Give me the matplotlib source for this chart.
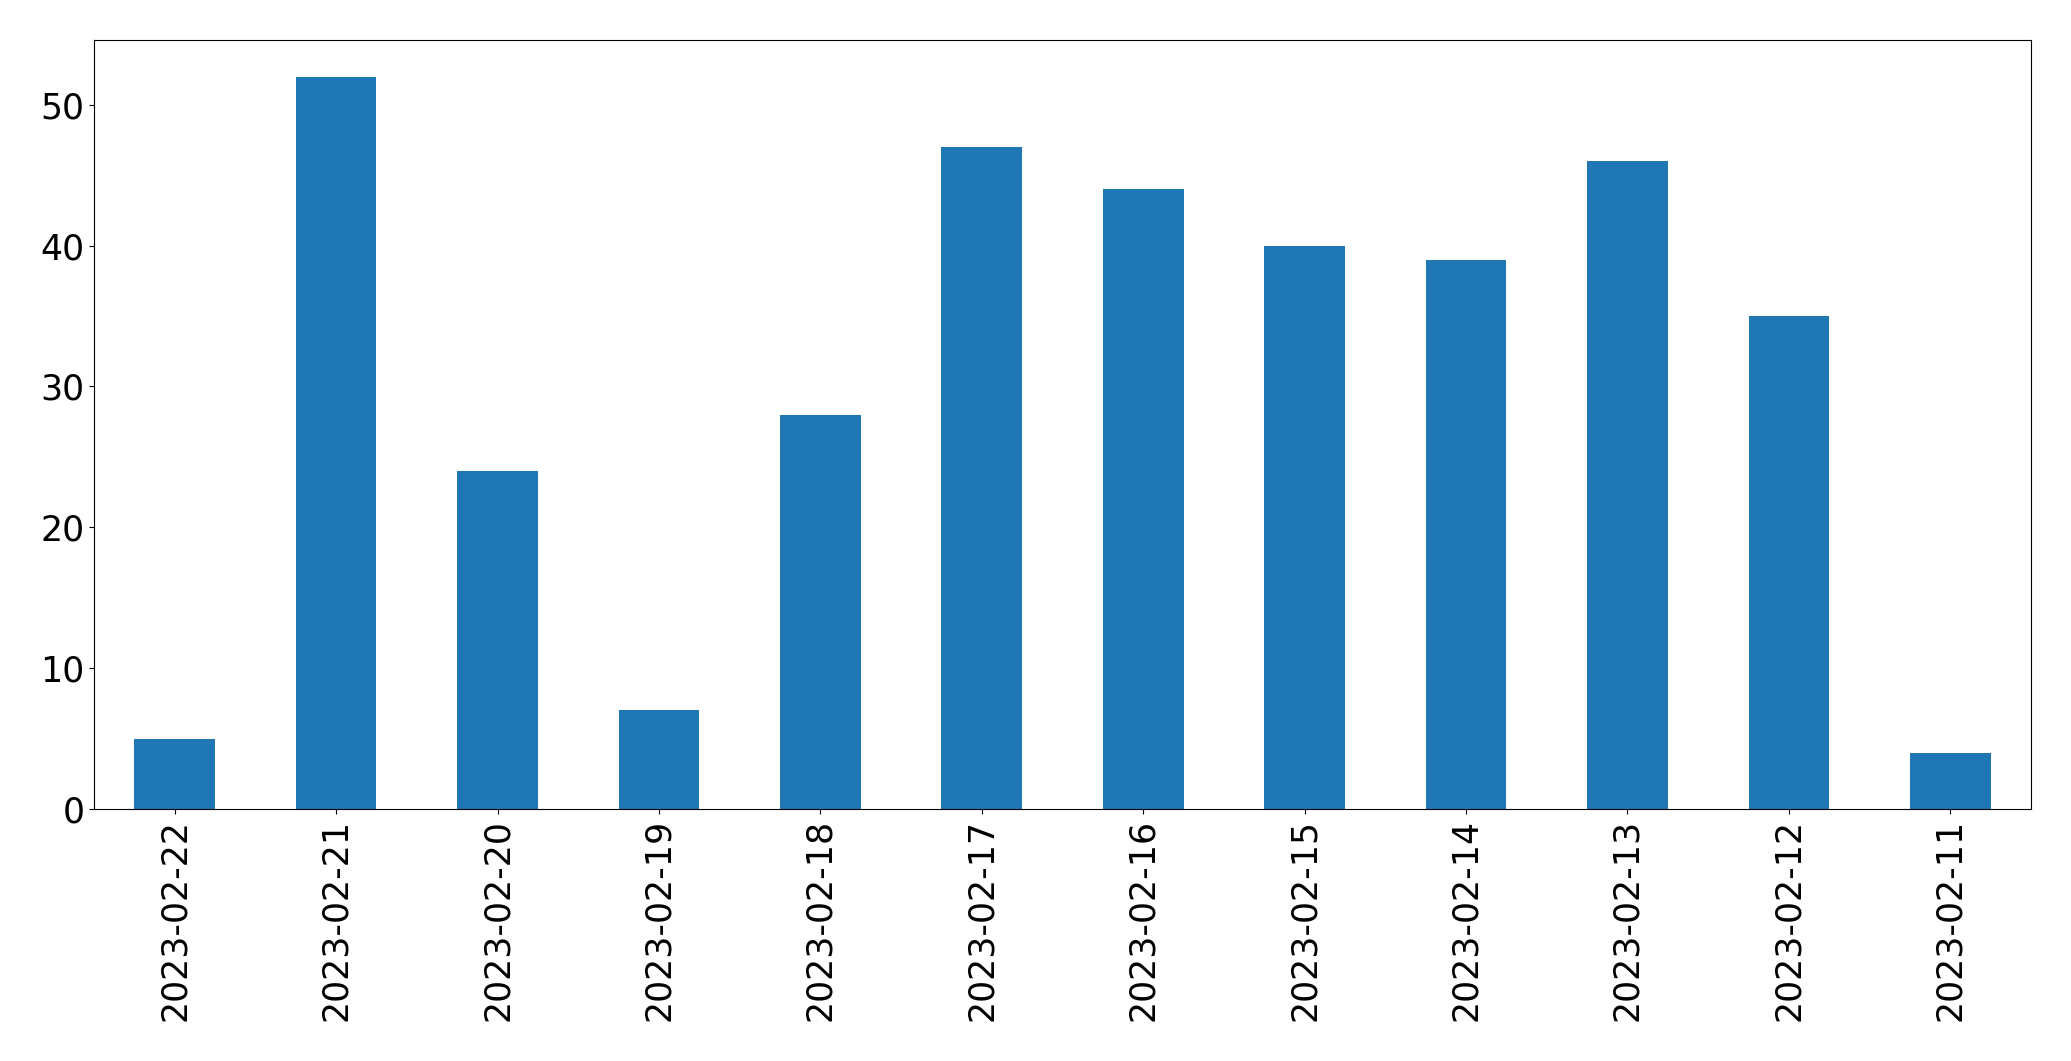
import pandas as pd
import matplotlib
matplotlib.use("Agg")
import matplotlib.pyplot as plt

# counts per day, newest first (as in the original plot)
dates = ["2023-02-22", "2023-02-21", "2023-02-20", "2023-02-19", "2023-02-18",
         "2023-02-17", "2023-02-16", "2023-02-15", "2023-02-14", "2023-02-13",
         "2023-02-12", "2023-02-11"]
counts = [5, 52, 24, 7, 28, 47, 44, 40, 39, 46, 35, 4]

series = pd.Series(counts, index=dates)

fig = plt.figure(figsize=(20.71, 10.61), dpi=100)
ax = fig.add_axes([94 / 2071, 1 - 809 / 1061, (2031 - 94) / 2071, (809 - 40) / 1061])
series.plot(kind="bar", ax=ax, color="#1f77b4")
ax.tick_params(axis="both", labelsize=25)
ax.set_ylim(0, 54.6)

fig.savefig("out.png", dpi=100)
